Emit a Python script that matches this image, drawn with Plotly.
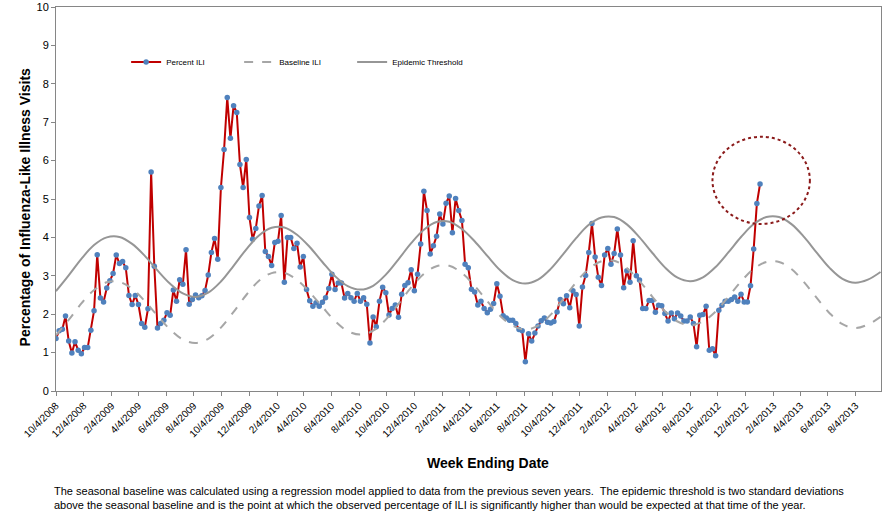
import pandas as pd
import plotly.graph_objects as go

# Weekly percent ILI, week ending 10/4/2008 onward
percent_ili = [
    1.37, 1.57, 1.61, 1.95, 1.30, 0.99, 1.28, 1.06, 0.97, 1.13,
    1.13, 1.58, 2.09, 3.55, 2.42, 2.32, 2.68, 2.87, 3.06, 3.54,
    3.32, 3.37, 3.21, 2.49, 2.25, 2.49, 2.25, 1.76, 1.66, 2.14,
    5.70, 3.25, 1.64, 1.76, 1.84, 2.04, 1.97, 2.63, 2.34, 2.90,
    2.78, 3.68, 2.26, 2.38, 2.50, 2.43, 2.48, 2.62, 3.02, 3.61,
    3.97, 3.43, 5.30, 6.29, 7.64, 6.58, 7.43, 7.25, 5.90, 5.30,
    6.03, 4.52, 3.95, 4.23, 4.82, 5.09, 3.63, 3.50, 3.27, 3.87,
    3.90, 4.57, 2.83, 4.00, 4.00, 3.71, 3.85, 3.23, 3.50, 2.64,
    2.35, 2.21, 2.30, 2.21, 2.31, 2.43, 2.67, 3.04, 2.64, 2.81,
    2.81, 2.42, 2.54, 2.43, 2.34, 2.54, 2.34, 2.43, 2.26, 1.25,
    1.93, 1.67, 2.34, 2.70, 2.56, 1.98, 2.15, 2.24, 1.92, 2.52,
    2.75, 2.82, 3.16, 2.61, 3.04, 3.83, 5.20, 4.70, 3.57, 3.78,
    4.03, 4.61, 4.35, 4.89, 5.08, 4.12, 5.01, 4.70, 4.44, 3.30,
    3.21, 2.65, 2.58, 2.24, 2.34, 2.15, 2.04, 2.13, 2.28, 2.79,
    2.47, 1.96, 1.90, 1.84, 1.84, 1.76, 1.60, 1.57, 0.76, 1.49,
    1.30, 1.51, 1.69, 1.83, 1.90, 1.79, 1.77, 1.81, 2.06, 2.38,
    2.27, 2.48, 2.17, 2.61, 2.51, 1.69, 2.71, 3.01, 3.61, 4.36,
    3.49, 2.96, 2.75, 3.54, 3.71, 3.30, 3.58, 4.22, 3.54, 2.69,
    3.13, 2.83, 3.91, 3.00, 2.89, 2.15, 2.15, 2.36, 2.36, 2.05,
    2.23, 2.22, 2.02, 1.82, 2.03, 1.88, 2.03, 1.95, 1.82, 1.82,
    1.93, 1.76, 1.15, 1.97, 1.99, 2.21, 1.06, 1.10, 0.92, 2.10,
    2.23, 2.34, 2.34, 2.38, 2.45, 2.34, 2.52, 2.32, 2.32, 2.74,
    3.70, 4.88, 5.39,
]

# Baseline and threshold, read every 4 weeks from 10/4/2008 to 9/28/2013
baseline_ili = [
    1.45, 1.85, 2.28, 2.63, 2.83,
    2.84, 2.66, 2.34, 1.96, 1.60, 1.34, 1.25,
    1.36, 1.65, 2.06, 2.50, 2.87, 3.07,
    3.08, 2.89, 2.57, 2.19, 1.82, 1.56, 1.47,
    1.57, 1.86, 2.27, 2.70, 3.05, 3.25,
    3.26, 3.07, 2.74, 2.34, 1.96, 1.70, 1.60,
    1.70, 1.99, 2.40, 2.83, 3.18, 3.38,
    3.39, 3.20, 2.86, 2.46, 2.08, 1.81, 1.71,
    1.81, 2.07, 2.45, 2.85, 3.18, 3.36,
    3.36, 3.17, 2.82, 2.41, 2.02, 1.74, 1.64,
    1.73, 1.93,
]
epidemic_threshold = [
    2.60, 3.01, 3.44, 3.80, 4.00,
    4.01, 3.83, 3.52, 3.14, 2.79, 2.54, 2.45,
    2.56, 2.85, 3.26, 3.69, 4.05, 4.25,
    4.26, 4.07, 3.75, 3.36, 2.99, 2.73, 2.64,
    2.74, 3.03, 3.43, 3.85, 4.20, 4.40,
    4.41, 4.22, 3.90, 3.52, 3.15, 2.89, 2.80,
    2.90, 3.18, 3.57, 3.98, 4.33, 4.52,
    4.53, 4.34, 4.00, 3.60, 3.22, 2.95, 2.86,
    2.96, 3.23, 3.61, 4.01, 4.35, 4.53,
    4.53, 4.34, 4.00, 3.59, 3.20, 2.92, 2.82,
    2.90, 3.10,
]

tick_labels = [
    "10/4/2008", "12/4/2008", "2/4/2009", "4/4/2009", "6/4/2009", "8/4/2009",
    "10/4/2009", "12/4/2009", "2/4/2010", "4/4/2010", "6/4/2010", "8/4/2010",
    "10/4/2010", "12/4/2010", "2/4/2011", "4/4/2011", "6/4/2011", "8/4/2011",
    "10/4/2011", "12/4/2011", "2/4/2012", "4/4/2012", "6/4/2012", "8/4/2012",
    "10/4/2012", "12/4/2012", "2/4/2013", "4/4/2013", "6/4/2013", "8/4/2013",
]

ili_dates = pd.date_range("2008-10-04", periods=len(percent_ili), freq="7D")
curve_dates = pd.date_range("2008-10-04", periods=len(baseline_ili), freq="28D")
tick_dates = pd.to_datetime(tick_labels, format="%m/%d/%Y")

# highlight ellipse (data coords)
circle_x = ["2012-09-22", "2013-04-25"]
circle_y = [4.35, 6.62]

FONT = "Arial, Liberation Sans, sans-serif"
AXIS_GREY = "#868686"

fig = go.Figure()
fig.add_trace(go.Scatter(
    x=ili_dates, y=percent_ili, name="Percent ILI", mode="lines+markers",
    line=dict(color="#C00000", width=2),
    marker=dict(color="#4F81BD", size=5.5),
))
fig.add_trace(go.Scatter(
    x=curve_dates, y=baseline_ili, name="Baseline ILI", mode="lines",
    line=dict(color="#A6A6A6", width=2, dash="dash", shape="spline"),
))
fig.add_trace(go.Scatter(
    x=curve_dates, y=epidemic_threshold, name="Epidemic Threshold", mode="lines",
    line=dict(color="#969696", width=2, shape="spline"),
))

fig.add_shape(type="circle", xref="x", yref="y",
              x0=circle_x[0], x1=circle_x[1], y0=circle_y[0], y1=circle_y[1],
              line=dict(color="#8B1A1A", width=2, dash="dot"))

fig.update_layout(
    width=895, height=518,
    margin=dict(l=56, r=14, t=7, b=127),
    paper_bgcolor="white", plot_bgcolor="white",
    font=dict(family=FONT, color="#000000"),
    showlegend=True,
    legend=dict(
        orientation="h", x=0.085, y=0.857, xanchor="left", yanchor="middle",
        font=dict(size=8, family=FONT), bgcolor="rgba(0,0,0,0)",
        itemwidth=30, entrywidth=68, entrywidthmode="pixels",
    ),
    xaxis=dict(
        type="date", range=["2008-10-04", "2013-09-29"],
        tickvals=tick_dates, ticktext=tick_labels, tickangle=-45,
        tickfont=dict(size=10, family=FONT), showgrid=False, zeroline=False,
        showline=True, linecolor=AXIS_GREY, linewidth=1, mirror=True,
        ticks="outside", ticklen=4, tickcolor=AXIS_GREY, automargin=False,
    ),
    yaxis=dict(
        range=[0, 10], dtick=1, tickfont=dict(size=11, family=FONT),
        showgrid=False, zeroline=False,
        showline=True, linecolor=AXIS_GREY, linewidth=1, mirror=True,
        ticks="outside", ticklen=4, tickcolor=AXIS_GREY, automargin=False,
        ticklabeloverflow="allow",
    ),
    annotations=[
        dict(text="<b>Percentage of Influenza-Like Illness Visits</b>",
             xref="paper", yref="paper", x=-0.0376, y=0.478, textangle=-90,
             xanchor="center", yanchor="middle", showarrow=False,
             font=dict(size=14, family=FONT)),
        dict(text="<b>Week Ending Date</b>",
             xref="paper", yref="paper", x=0.524, y=-0.1875,
             xanchor="center", yanchor="middle", showarrow=False,
             font=dict(size=14, family=FONT)),
        dict(text="The seasonal baseline was calculated using a regression model applied to data from the previous seven years.  The epidemic threshold is two standard deviations<br>"
                  "above the seasonal baseline and is the point at which the observed percentage of ILI is significantly higher than would be expected at that time of the year.",
             xref="paper", yref="paper", x=-0.005, y=-0.239,
             xanchor="left", yanchor="top", align="left", showarrow=False,
             font=dict(size=11, family=FONT)),
    ],
)

fig.write_html("out.html", config={"displayModeBar": False},
               post_script="document.body.style.margin='0';")
